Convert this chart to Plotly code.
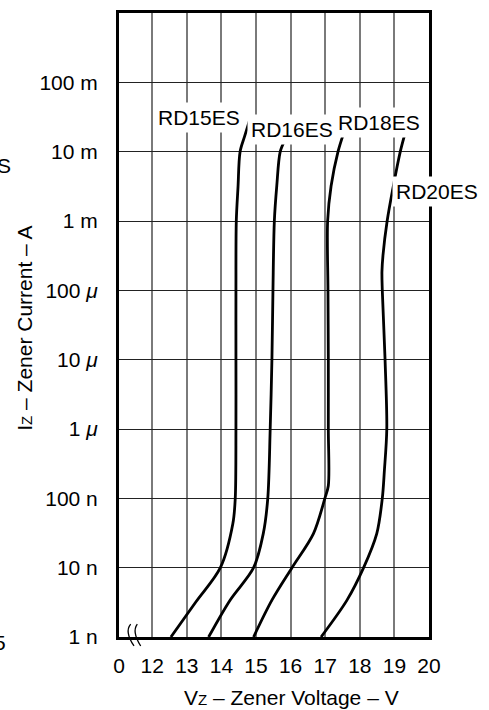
import plotly.graph_objects as go

# ---------------- data ----------------
RD15_V = [12.54, 13.26, 13.97, 14.33, 14.40, 14.42, 14.42, 14.42, 14.43, 14.48, 14.54, 14.67, 14.81]
RD15_I = [1e-9, 3.2e-9, 1e-8, 4.3e-8, 1e-7, 1e-6, 1e-5, 1e-4, 1e-3, 3.1e-3, 1e-2, 1.66e-2, 2.8e-2]

RD16_V = [13.63, 14.25, 14.93, 15.21, 15.34, 15.41, 15.46, 15.49, 15.53, 15.60, 15.70, 15.84]
RD16_I = [1e-9, 3.4e-9, 1e-8, 3.1e-8, 1e-7, 1e-6, 1e-5, 1e-4, 1e-3, 3.2e-3, 1e-2, 1.48e-2]

RD18_V = [14.93, 15.46, 16.04, 16.66, 16.99, 17.09, 17.09, 17.09, 17.08, 17.07, 17.17, 17.37, 17.53]
RD18_I = [1e-9, 3.4e-9, 1e-8, 3.1e-8, 1e-7, 1.52e-7, 1e-6, 1e-5, 1e-4, 1e-3, 3.2e-3, 1e-2, 1.82e-2]

RD20_V = [16.88, 17.63, 18.11, 18.49, 18.65, 18.71, 18.78, 18.73, 18.65, 18.64, 18.67, 18.79, 18.97, 19.17, 19.29]
RD20_I = [1e-9, 3.4e-9, 1e-8, 3.1e-8, 1e-7, 2.5e-7, 1e-6, 1e-5, 1e-4, 1.86e-4, 3.2e-4, 1e-3, 3.2e-3, 1e-2, 1.7e-2]

SERIES = [("RD15ES", RD15_V, RD15_I), ("RD16ES", RD16_V, RD16_I),
          ("RD18ES", RD18_V, RD18_I), ("RD20ES", RD20_V, RD20_I)]

X_TICKVALS = [11.04, 12, 13, 14, 15, 16, 17, 18, 19, 20]
X_TICKTEXT = ["0", "12", "13", "14", "15", "16", "17", "18", "19", "20"]
Y_TICKVALS = [1e-9, 1e-8, 1e-7, 1e-6, 1e-5, 1e-4, 1e-3, 1e-2, 1e-1]
Y_TICKTEXT = ["1 n", "10 n", "100 n", "1 <i>μ</i>", "10 <i>μ</i>", "100 <i>μ</i>", "1 m", "10 m", "100 m"]

# label positions (paper coords)
LABELS = [("RD15ES", 0.258, 0.8325), ("RD16ES", 0.557, 0.8134),
          ("RD18ES", 0.840, 0.8238), ("RD20ES", 1.026, 0.7137)]

FONT = "Liberation Sans, Arial, Helvetica, sans-serif"
FS = 21

fig = go.Figure()
for name, v, i in SERIES:
    fig.add_trace(go.Scatter(x=v, y=i, mode="lines", name=name,
                             line=dict(color="black", width=2.8, shape="spline", smoothing=0.9),
                             showlegend=False, hoverinfo="skip"))

for txt, px, py in LABELS:
    fig.add_annotation(text=txt, x=px, y=py, xref="paper", yref="paper",
                       showarrow=False, font=dict(family=FONT, size=FS, color="black"),
                       bgcolor="white", borderpad=3, xanchor="center", yanchor="middle")

# axis titles
fig.add_annotation(text="V<span style='font-size:15px'>Z</span> – Zener Voltage – V",
                   x=0.555, y=-0.0973, xref="paper", yref="paper", showarrow=False,
                   font=dict(family=FONT, size=FS, color="black"),
                   xanchor="center", yanchor="middle")
fig.add_annotation(text="I<span style='font-size:15px'>Z</span> – Zener Current – A",
                   x=-0.303, y=0.494, xref="paper", yref="paper", showarrow=False,
                   textangle=-90, font=dict(family=FONT, size=FS, color="black"),
                   xanchor="center", yanchor="middle")

# cropped fragments of neighbouring text at the left edge
fig.add_annotation(text="S", x=-0.371, y=0.756, xref="paper", yref="paper", showarrow=False,
                   font=dict(family=FONT, size=FS, color="black"), xanchor="center", yanchor="middle")
fig.add_annotation(text="5", x=-0.385, y=-0.0096, xref="paper", yref="paper", showarrow=False,
                   font=dict(family=FONT, size=FS, color="black"), xanchor="center", yanchor="middle")

# axis break marks "((" on the bottom axis
for path in ["M 0.0377 0.0207 Q 0.0169 0.0086 0.0484 -0.0144",
             "M 0.0590 0.0207 Q 0.0406 0.0086 0.0700 -0.0144"]:
    fig.add_shape(type="path", path=path, xref="paper", yref="paper",
                  line=dict(color="black", width=1.3), layer="above")

fig.update_xaxes(range=[11.04, 20], tickmode="array", tickvals=X_TICKVALS, ticktext=X_TICKTEXT,
                 showgrid=True, gridcolor="#7a7a7a", gridwidth=1.5,
                 showline=True, mirror=True, linecolor="black", linewidth=3,
                 ticks="", ticklabelstandoff=8, zeroline=False,
                 tickfont=dict(family=FONT, size=FS, color="black"))
fig.update_yaxes(type="log", range=[-9, 0], tickmode="array", tickvals=Y_TICKVALS, ticktext=Y_TICKTEXT,
                 showgrid=True, gridcolor="#222222", gridwidth=1,
                 showline=True, mirror=True, linecolor="black", linewidth=3,
                 ticks="", ticklabelstandoff=14, zeroline=False,
                 tickfont=dict(family=FONT, size=FS, color="black"))

fig.update_layout(width=489, height=710, margin=dict(l=119, r=60, t=10, b=73),
                  paper_bgcolor="white", plot_bgcolor="white",
                  font=dict(family=FONT, size=FS, color="black"))

fig.write_html("out.html", config={"displayModeBar": False},
               post_script="document.body.style.margin='0px';document.body.style.overflow='hidden';")
